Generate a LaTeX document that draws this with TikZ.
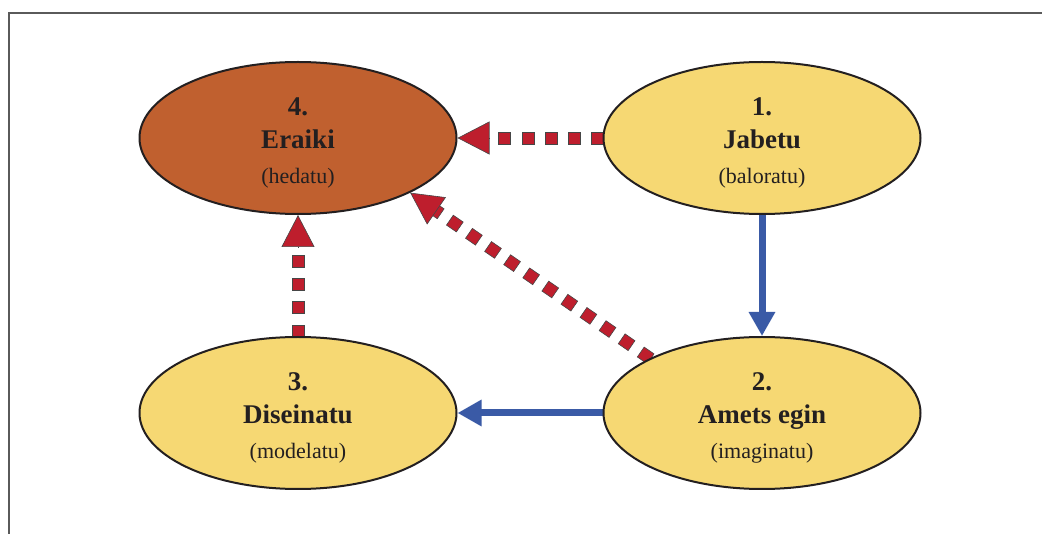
\documentclass[tikz,border=0pt]{standalone}
\usepackage{fontspec}
\setmainfont{Liberation Serif}
\usetikzlibrary{shapes.geometric,arrows.meta,calc,decorations.markings}
\pgfdeclarelayer{bg}
\pgfsetlayers{bg,main}
\definecolor{cYellow}{RGB}{246,216,115}
\definecolor{cOrange}{RGB}{192,96,47}
\definecolor{cBlue}{RGB}{58,90,166}
\definecolor{cRed}{RGB}{190,30,45}
\definecolor{cInk}{RGB}{35,31,32}
\definecolor{cFrame}{RGB}{90,90,90}
\definecolor{cEdge}{RGB}{70,70,70}
\tikzset{
  stage/.style={ellipse, draw=cInk, line width=2pt, minimum width=317pt, minimum height=152pt, inner sep=0pt},
  numtxt/.style={anchor=base, text=cInk, inner sep=0pt, font=\fontsize{27}{30}\selectfont\bfseries},
  subtxt/.style={anchor=base, text=cInk, inner sep=0pt, font=\fontsize{22}{26}\selectfont},
  flow/.style={draw=cBlue, line width=7pt, -{Triangle[length=24pt,width=25pt]}},
  sqdash/.style={decoration={markings, mark=between positions 5pt and -26pt step 23.2pt with {\filldraw[fill=cRed, draw=cEdge, line width=0.6pt] (-6pt,-6pt) rectangle (6pt,6pt);}}, decorate},
  redtip/.style={draw=cEdge, line width=0.6pt, -{Triangle[length=32pt,width=33pt,fill=cRed]}},
  framel/.style={draw=cFrame, line width=1.4pt}
}
\begin{document}
\begin{tikzpicture}[x=1pt,y=-1pt]
\useasboundingbox (0,0) rectangle (1042,534);
\draw[framel] (9,534) -- (9,13) -- (1042,13);

\node[stage, fill=cOrange] (e4) at (298,138) {};
\node[stage, fill=cYellow] (e1) at (762,138) {};
\node[stage, fill=cYellow] (e3) at (298,413) {};
\node[stage, fill=cYellow] (e2) at (762,413) {};

\node[numtxt] (t4a) at ($(e4.center)+(0,-22)$) {4.};
\node[numtxt] (t4b) at ($(e4.center)+(0,11)$) {Eraiki};
\node[subtxt] (t4c) at ($(e4.center)+(0,45.5)$) {(hedatu)};

\node[numtxt] (t1a) at ($(e1.center)+(0,-22)$) {1.};
\node[numtxt] (t1b) at ($(e1.center)+(0,11)$) {Jabetu};
\node[subtxt] (t1c) at ($(e1.center)+(0,45.5)$) {(baloratu)};

\node[numtxt] (t3a) at ($(e3.center)+(0,-22)$) {3.};
\node[numtxt] (t3b) at ($(e3.center)+(0,11)$) {Diseinatu};
\node[subtxt] (t3c) at ($(e3.center)+(0,45.5)$) {(modelatu)};

\node[numtxt] (t2a) at ($(e2.center)+(0,-22)$) {2.};
\node[numtxt] (t2b) at ($(e2.center)+(0,11)$) {Amets egin};
\node[subtxt] (t2c) at ($(e2.center)+(0,45.5)$) {(imaginatu)};

\begin{pgfonlayer}{bg}
  \draw[flow] (e1) -- (e2);
  \draw[flow] (e2) -- (e3);
  \path[sqdash] (e1) -- (e4);
  \path[sqdash] (e3) -- (e4);
  \path[sqdash] (e2.154) -- (e4.-26);
\end{pgfonlayer}
\draw[redtip] ($(e4.east)!32pt!(e1.west)$) -- (e4.east);
\draw[redtip] ($(e4.south)!32pt!(e3.north)$) -- (e4.south);
\draw[redtip] ($(e4.-26)!32pt!(e2.154)$) -- (e4.-26);
\end{tikzpicture}
\end{document}
